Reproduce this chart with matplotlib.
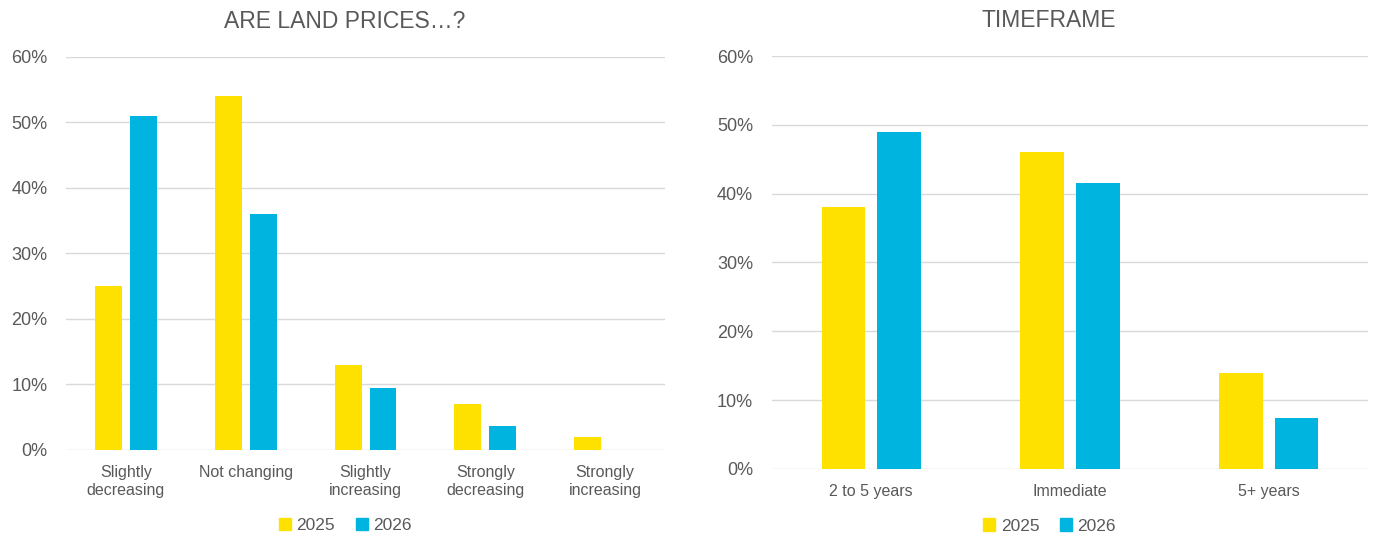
import matplotlib
matplotlib.use("Agg")
import matplotlib.pyplot as plt
import numpy as np
from matplotlib.patches import Patch
from matplotlib.ticker import PercentFormatter

plt.rcParams['font.family'] = ['Liberation Sans', 'DejaVu Sans']

# data (percent)
price_cats = ["Slightly\ndecreasing", "Not changing", "Slightly\nincreasing",
              "Strongly\ndecreasing", "Strongly\nincreasing"]
price_2025 = [25, 54, 13, 7, 2]
price_2026 = [51, 36, 9.5, 3.7, 0]

time_cats = ["2 to 5 years", "Immediate", "5+ years"]
time_2025 = [38, 46, 14]
time_2026 = [49, 41.5, 7.4]

years = ["2025", "2026"]
YELLOW = "#FFE100"
BLUE = "#00B4E0"
TEXT = "#595959"
GRID = "#D9D9D9"


def draw_panel(ax, cats, s1, s2, title, width, gap, legend_y):
    x = np.arange(len(cats))
    off = (width + gap) / 2
    ax.bar(x - off, s1, width, color=YELLOW, zorder=3)
    ax.bar(x + off, s2, width, color=BLUE, zorder=3)
    ax.set_xlim(-0.5, len(cats) - 0.5)
    ax.set_ylim(0, 60)
    ax.set_yticks(np.arange(0, 61, 10))
    ax.yaxis.set_major_formatter(PercentFormatter(decimals=0))
    ax.set_xticks(x)
    ax.set_xticklabels(cats, linespacing=1.25)
    ax.grid(axis="y", color=GRID, linewidth=1, zorder=0)
    for s in ax.spines.values():
        s.set_visible(False)
    ax.tick_params(length=0, colors=TEXT)
    ax.tick_params(axis="y", pad=13.5, labelsize=13)
    ax.tick_params(axis="x", pad=10.5, labelsize=11.5)
    ax.set_title(title, color=TEXT, fontsize=16.5, pad=21, x=0.465)
    handles = [Patch(color=YELLOW, label=years[0]), Patch(color=BLUE, label=years[1])]
    ax.legend(handles=handles, loc="center", ncol=2, frameon=False,
              handlelength=0.7, handleheight=0.7, handletextpad=0.3,
              columnspacing=1.2, fontsize=12.5, labelcolor=TEXT,
              bbox_to_anchor=(0.466, legend_y))


fig = plt.figure(figsize=(13.78, 5.38), dpi=100)
ax1 = fig.add_axes([0.0479, 0.1636, 0.4347, 0.7305])
ax2 = fig.add_axes([0.5602, 0.1283, 0.4325, 0.7676])

draw_panel(ax1, price_cats, price_2025, price_2026, "ARE LAND PRICES…?", 0.225, 0.067, -0.193)
draw_panel(ax2, time_cats, time_2025, time_2026, "TIMEFRAME", 0.22, 0.06, -0.138)

fig.savefig("out.png", dpi=100)
